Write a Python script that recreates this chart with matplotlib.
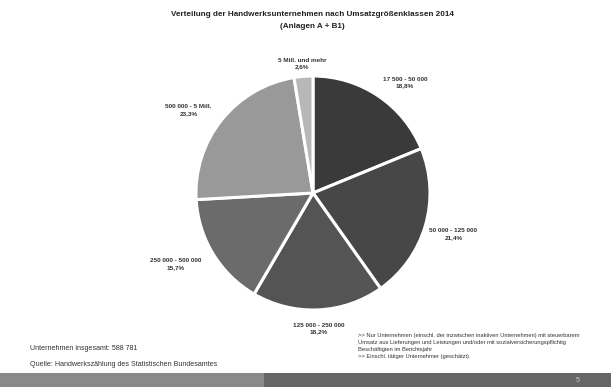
import numpy as np
import matplotlib
matplotlib.use("Agg")
import matplotlib.pyplot as plt
from matplotlib.patches import Rectangle

plt.rcParams['font.family'] = ['Liberation Sans', 'DejaVu Sans']

# Daten
klassen = ["17 500 - 50 000", "50 000 - 125 000", "125 000 - 250 000",
           "250 000 - 500 000", "500 000 - 5 Mill.", "5 Mill. und mehr"]
anteile = [18.8, 21.4, 18.2, 15.7, 23.3, 2.6]
farben = ["#3a3a3a", "#474747", "#545454", "#6b6b6b", "#999999", "#b8b8b8"]
# Abstand der Beschriftung vom Mittelpunkt (in Radien)
label_abstand = [1.23, 1.25, 1.16, 1.32, 1.28, 1.11]
label_winkel_korr = [-6, 0, 0, -4, 5, 0]

W, H = 611, 387
fig = plt.figure(figsize=(W / 100, H / 100), dpi=100)

# Pie-Achse: Mittelpunkt (313, 193), Radius 117 px
cx, cy, r = 313, 193, 117
ax = fig.add_axes([(cx - r) / W, (H - cy - r) / H, 2 * r / W, 2 * r / H])
wedges, _ = ax.pie(anteile, colors=farben, startangle=90, counterclock=False,
                   radius=1, wedgeprops=dict(edgecolor="white", linewidth=2.2))
ax.set_xlim(-1, 1)
ax.set_ylim(-1, 1)
ax.set_aspect("equal")

for w, name, val, d, k in zip(wedges, klassen, anteile, label_abstand, label_winkel_korr):
    ang = np.deg2rad((w.theta1 + w.theta2) / 2 + k)
    txt = f"{name}\n" + f"{val:.1f}%".replace(".", ",")
    ax.text(d * np.cos(ang), d * np.sin(ang), txt, ha="center", va="center",
            fontsize=4.6, fontweight="bold", color="#333333", linespacing=1.5)

fig.text(312 / W, 1 - 15 / H, "Verteilung der Handwerksunternehmen nach Umsatzgrößenklassen 2014",
         ha="center", va="center", fontsize=5.9, fontweight="bold", color="#222222")
fig.text(312 / W, 1 - 27 / H, "(Anlagen A + B1)",
         ha="center", va="center", fontsize=5.9, fontweight="bold", color="#222222")

fig.text(30 / W, 1 - 349 / H, "Unternehmen insgesamt: 588 781",
         ha="left", va="center", fontsize=5.1, color="#333333")
fig.text(30 / W, 1 - 365 / H, "Quelle: Handwerkszählung des Statistischen Bundesamtes",
         ha="left", va="center", fontsize=5.1, color="#333333")

notes = [">> Nur Unternehmen (einschl. der inzwischen inaktiven Unternehmen) mit steuerbarem",
         "Umsatz aus Lieferungen und Leistungen und/oder mit sozialversicherungspflichtig",
         "Beschäftigten im Berichtsjahr",
         ">> Einschl. tätiger Unternehmer (geschätzt)."]
for i, line in enumerate(notes):
    fig.text(358 / W, 1 - (335 + i * 7.3) / H, line, ha="left", va="center",
             fontsize=4.15, color="#333333")

# Fußleiste
fig.patches.append(Rectangle((0, 0), 264 / W, 14 / H, transform=fig.transFigure,
                             facecolor="#8a8a8a", edgecolor="none"))
fig.patches.append(Rectangle((264 / W, 0), 1 - 264 / W, 14 / H, transform=fig.transFigure,
                             facecolor="#666666", edgecolor="none"))
fig.text(578 / W, 7 / H, "5", ha="center", va="center", fontsize=5, color="#cccccc")

fig.savefig("out.png", dpi=100)
